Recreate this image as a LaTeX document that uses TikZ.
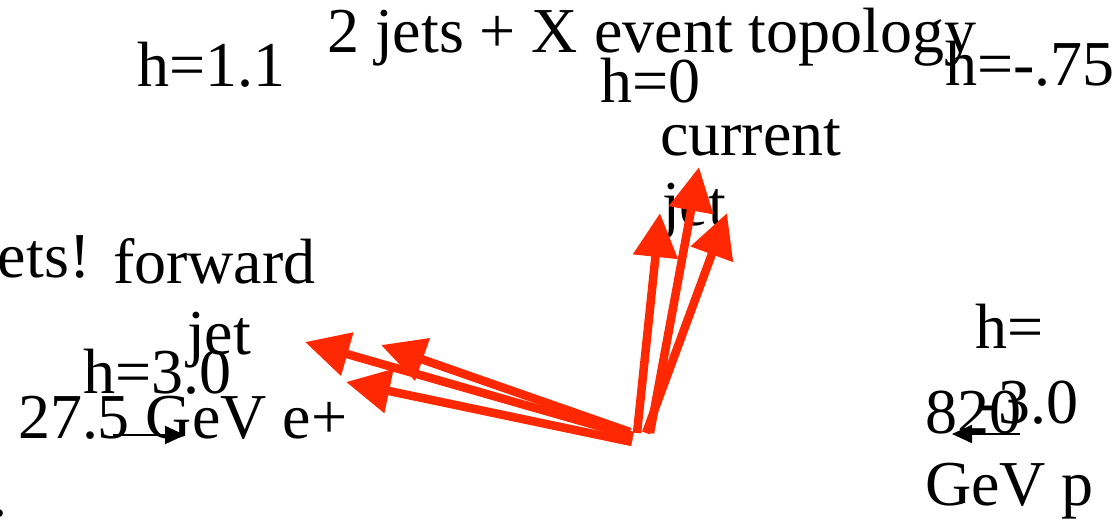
\documentclass[tikz,border=0pt]{standalone}
\usepackage{fontspec}
\setmainfont{Liberation Serif}
\usetikzlibrary{arrows.meta}
\definecolor{jetred}{RGB}{255,40,0}
\tikzset{
  lbl/.style={anchor=base west, inner sep=0pt, outer sep=0pt, font=\fontsize{64}{76}\selectfont},
  jetarrow/.style={draw=jetred, line width=8.5pt, -{Triangle[length=44pt,width=43pt]}, color=jetred},
  beamarrow/.style={draw=black, line width=2pt, -{Triangle[length=20pt,width=18pt]}}
}
\begin{document}
\begin{tikzpicture}[x=1pt,y=-1pt]
\useasboundingbox (0,0) rectangle (1117,522);
% texts
\node[lbl] (title) at (327,52) {2 jets + X event topology};
\node[lbl] (h11) at (137,86) {h=1.1};
\node[lbl] (h0) at (600,102) {h=0};
\node[lbl] (h75) at (945,85) {h=-.75};
\node[lbl] (cur) at (660,155) {current};
\node[lbl] (curjet) at (662,225) {jet};
\node[lbl] (ets) at (-2,277) {ets!};
\node[lbl] (fwd) at (113,283) {forward};
\node[lbl] (fwdjet) at (187,354) {jet};
\node[lbl] (h30) at (83,393) {h=3.0};
\node[lbl] (eplus) at (18,438) {27.5 GeV e+};
\node[lbl] (dot) at (-9,516) {.};
\node[lbl] (hm) at (975,348) {h=};
\node[lbl] (m30) at (977,423) {-3.0};
\node[lbl] (p820) at (925,433) {820};
\node[lbl] (gevp) at (925,505) {GeV p};
% beam arrows
\coordinate (ea) at (113,435);
\coordinate (eb) at (185,435);
\coordinate (pa) at (1020,434);
\coordinate (pb) at (952,434);
\draw[beamarrow] (ea) -- (eb);
\draw[beamarrow] (pa) -- (pb);
% jet arrows
\coordinate (t1) at (633,436);
\coordinate (t2) at (630,432);
\coordinate (t3) at (632,442);
\coordinate (f1) at (305,342);
\coordinate (f2) at (381,345);
\coordinate (f3) at (346,382);
\coordinate (u1) at (650,433);
\coordinate (u2) at (637,433);
\coordinate (u3) at (646,433);
\coordinate (c1) at (699,167);
\coordinate (c2) at (660,213);
\coordinate (c3) at (727,213);
\draw[jetarrow] (t1) -- (f1);
\draw[jetarrow] (t2) -- (f2);
\draw[jetarrow] (t3) -- (f3);
\draw[jetarrow] (u1) -- (c1);
\draw[jetarrow] (u2) -- (c2);
\draw[jetarrow] (u3) -- (c3);
\end{tikzpicture}
\end{document}
